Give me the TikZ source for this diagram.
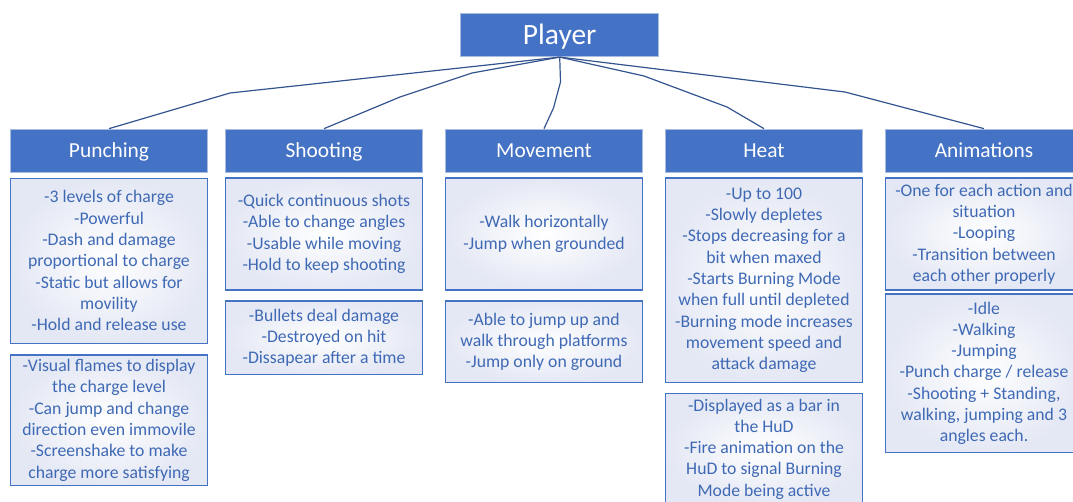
\documentclass[tikz,border=0pt]{standalone}
\usepackage{fontspec}
\setmainfont{Carlito}
\definecolor{hdblue}{HTML}{4472C4}
\definecolor{hdedge}{HTML}{A9BCE0}
\definecolor{txtblue}{HTML}{3F69B5}
\definecolor{shadeblue}{HTML}{E4E8F4}
\definecolor{lineblue}{HTML}{34548F}
\begin{document}
\begin{tikzpicture}[x=1pt,y=-1pt,
  head/.style={fill=hdblue, draw=hdedge, line width=0.8pt, text=white,
    minimum width=197pt, minimum height=43.5pt, inner sep=0pt,
    text height=13.8pt, text depth=0pt,
    font=\fontsize{21.4}{25}\selectfont},
  detail/.style={draw=hdblue, line width=1.3pt, inner color=white,
    outer color=shadeblue, text=txtblue, align=center,
    minimum width=197pt, inner sep=0pt,
    font=\fontsize{17.7}{21.3}\selectfont},
  conn/.style={draw=lineblue, line width=1.2pt, line join=round}]
\useasboundingbox (0,0) rectangle (1073,501);
\clip (0,0) rectangle (1073,501);

% root
\node[head, minimum width=198pt, minimum height=43.4pt, text height=19pt,
  font=\fontsize{29.5}{34}\selectfont] (player) at (559.7,35) {Player};

% category headers
\node[head] (punch) at (109,150.8) {Punching};
\node[head] (shoot) at (324,150.8) {Shooting};
\node[head] (move)  at (544,150.8) {Movement};
\node[head] (heat)  at (764,150.8) {Heat};
\node[head] (anim)  at (984,150.8) {Animations};

% connectors from the root to each category
\draw[conn] (player.south) -- (230,93) -- (punch.north);
\draw[conn] (player.south) -- (472,73) -- (400,97) -- (shoot.north);
\draw[conn] (player.south) -- (560.5,82) -- (553.5,108) -- (move.north);
\draw[conn] (player.south) -- (644,76) -- (727,107) -- (heat.north);
\draw[conn] (player.south) -- (845,92) -- (anim.north);

% Punching details
\node[detail, minimum height=165pt] (p1) at (109,260.7)
  {-3 levels of charge\\-Powerful\\-Dash and damage\\proportional to charge\\-Static but allows for\\movility\\-Hold and release use};
\node[detail, minimum height=130.7pt] (p2) at (109,420.3)
  {-Visual flames to display\\the charge level\\-Can jump and change\\direction even immovile\\-Screenshake to make\\charge more satisfying};

% Shooting details
\node[detail, minimum height=112pt] (s1) at (324,234)
  {-Quick continuous shots\\-Able to change angles\\-Usable while moving\\-Hold to keep shooting};
\node[detail, minimum height=73.7pt] (s2) at (324,337.8)
  {-Bullets deal damage\\-Destroyed on hit\\-Dissapear after a time};

% Movement details
\node[detail, minimum height=112pt] (m1) at (544,234)
  {-Walk horizontally\\-Jump when grounded};
\node[detail, minimum height=81.7pt] (m2) at (544,341.8)
  {-Able to jump up and\\walk through platforms\\-Jump only on ground};

% Heat details
\node[detail, minimum height=204.7pt] (h1) at (764,280.3)
  {-Up to 100\\-Slowly depletes\\-Stops decreasing for a\\bit when maxed\\-Starts Burning Mode\\when full until depleted\\-Burning mode increases\\movement speed and\\attack damage};
\node[detail, minimum height=111pt] (h2) at (764,449)
  {-Displayed as a bar in\\the HuD\\-Fire animation on the\\HuD to signal Burning\\Mode being active};

% Animations details
\node[detail, minimum height=112pt] (a1) at (984,234)
  {-One for each action and\\situation\\-Looping\\-Transition between\\each other properly};
\node[detail, minimum height=158.7pt] (a2) at (984,373.3)
  {-Idle\\-Walking\\-Jumping\\-Punch charge / release\\-Shooting + Standing,\\walking, jumping and 3\\angles each.};
\end{tikzpicture}
\end{document}
